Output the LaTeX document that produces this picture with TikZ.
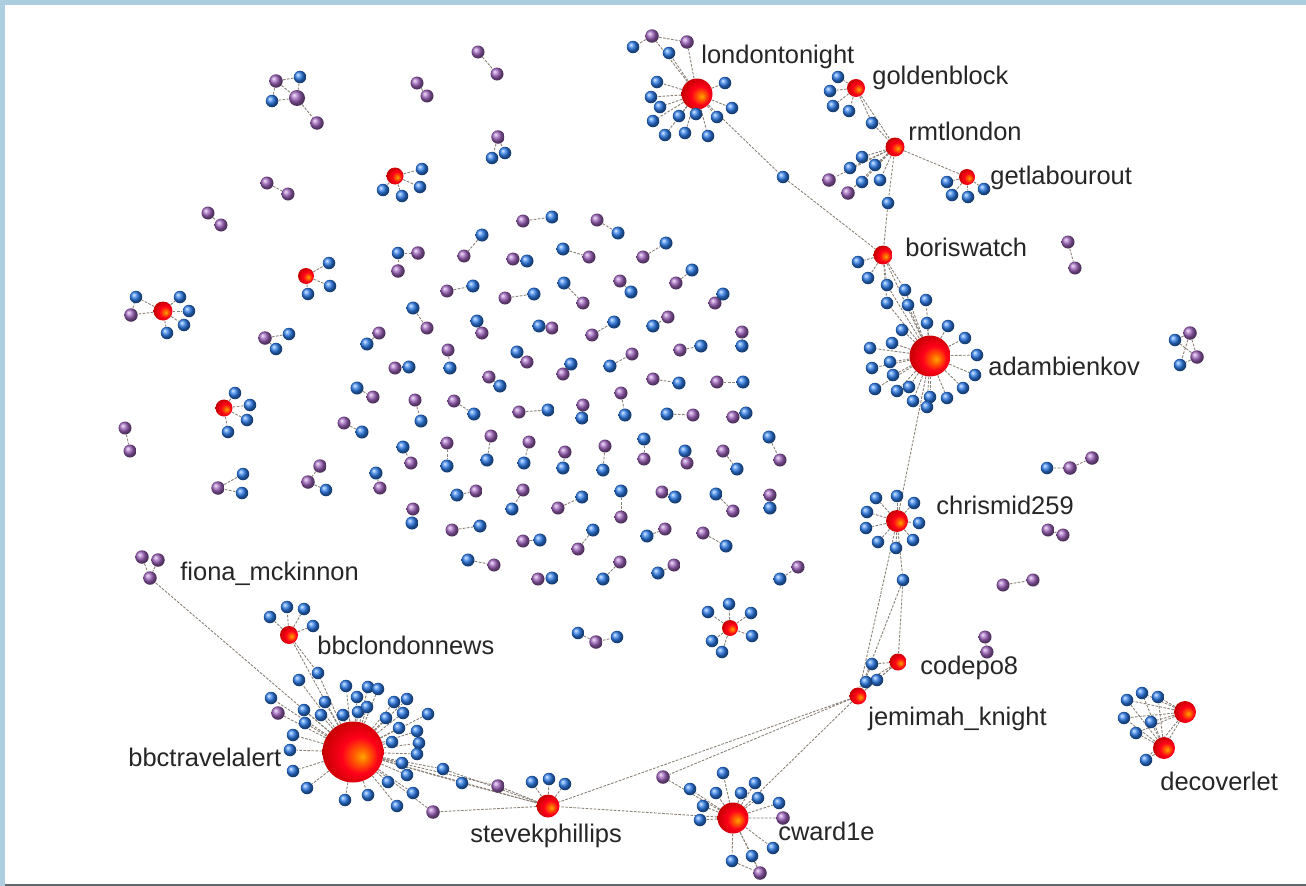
\documentclass[tikz,border=0pt]{standalone}
\usepackage{fontspec}
\setmainfont{Liberation Sans}
\pgfdeclarelayer{bg}
\pgfdeclarelayer{edges}
\pgfsetlayers{bg,edges,main}

\definecolor{framebg}{RGB}{172,206,222}
\definecolor{rulegray}{RGB}{95,105,110}
\definecolor{lb}{RGB}{45,125,235}
\definecolor{lp}{RGB}{160,100,190}
\pgfdeclareradialshading{hubball}{\pgfpoint{8bp}{-4bp}}{color(0bp)=(orange!70!yellow); color(6bp)=(orange!75!red); color(15bp)=(red!90!magenta); color(30bp)=(red!75!black); color(50bp)=(red!55!black)}

\tikzset{
  leaf/.style={circle, inner sep=0pt, minimum size=0.25cm, ball color=#1},
  bnode/.style={leaf=lb},
  pnode/.style={leaf=lp, minimum size=0.27cm},
  hub/.style={circle, inner sep=0pt, minimum size=#1, shading=hubball},
  hub/.default=0.36cm,
  link/.style={draw=gray!85!brown, line width=0.5pt, dash pattern=on 1.5pt off 0.8pt},
  lbl/.style={anchor=base west, inner sep=0pt, text=black!85, font=\fontsize{14.5}{17}\selectfont}
}

\begin{document}
\begin{tikzpicture}[x=0.02cm, y=-0.02cm]
\useasboundingbox (0,0) rectangle (1306,886);
\begin{pgfonlayer}{bg}
\fill[framebg] (0,0) rectangle (1306,886);
\fill[white] (5,5) rectangle (1306,884);
\fill[rulegray] (5,884) rectangle (1306,886);
\end{pgfonlayer}

% loose pairs in the middle
\foreach \ca/\xa/\ya/\cb/\xb/\yb [count=\i] in {
  lp/523/221/lb/552/217, lb/482/235/lp/464/256, lp/513/259/lb/527/261,
  lp/447/291/lb/473/286, lp/505/298/lb/534/294, lb/413/308/lp/427/328,
  lb/477/321/lp/482/333, lb/539/326/lp/552/328, lp/379/333/lb/367/344,
  lp/448/350/lb/450/368, lb/517/352/lp/527/362, lp/395/368/lb/409/367,
  lp/489/377/lb/500/386, lb/357/388/lp/373/397, lp/597/220/lb/618/233,
  lb/563/249/lp/589/257, lp/643/257/lb/666/243, lb/564/283/lp/583/303,
  lp/620/281/lb/631/292, lp/676/283/lb/692/270, lp/715/303/lb/723/294,
  lp/592/335/lb/614/322, lb/653/326/lp/668/317, lp/742/332/lb/742/346,
  lp/680/350/lb/701/346, lb/571/364/lp/563/374, lb/610/366/lp/632/354,
  lp/653/379/lb/679/383, lp/717/382/lb/743/382, lp/621/393/lb/625/415,
  lp/415/400/lb/421/421, lp/454/401/lb/474/414, lp/519/412/lb/548/410,
  lp/344/423/lb/362/432, lb/403/447/lp/411/463, lp/447/443/lb/447/466,
  lp/491/436/lb/487/460, lp/529/442/lb/524/463, lb/376/473/lp/380/488,
  lb/457/495/lp/476/491, lp/523/490/lb/512/509, lp/413/509/lb/412/523,
  lp/452/530/lb/480/526, lp/523/541/lb/540/540, lb/468/560/lp/494/565,
  lp/538/579/lb/552/578, lp/583/405/lb/582/418, lb/667/414/lp/693/415,
  lp/733/417/lb/746/413, lp/565/452/lb/563/468, lp/605/446/lb/603/470,
  lb/644/439/lp/644/459, lb/685/451/lp/687/463, lp/723/451/lb/737/469,
  lb/769/437/lp/780/460, lp/558/508/lb/582/497, lb/621/491/lp/621/517,
  lp/662/492/lb/675/497, lb/716/494/lp/733/511, lp/770/495/lb/770/508,
  lb/593/530/lp/578/549, lb/647/536/lp/665/529, lp/703/533/lb/726/546,
  lb/603/579/lp/620/562, lb/658/573/lp/674/565, lb/780/579/lp/798/567,
  lp/417/83/lp/427/96, lp/478/52/lp/497/74, lp/267/183/lp/288/194,
  lp/208/213/lp/221/225, lp/125/428/lp/130/451, lp/1068/242/lp/1075/268,
  lp/1048/530/lp/1063/535, lp/1003/585/lp/1033/580, lp/985/637/lp/987/652}{
  \node[leaf=\ca, minimum size=0.26cm] (pa\i) at (\xa,\ya) {};
  \node[leaf=\cb, minimum size=0.26cm] (pb\i) at (\xb,\yb) {};
  \begin{pgfonlayer}{edges}\draw[link] (pa\i) -- (pb\i);\end{pgfonlayer}
}

% small clusters
\node[bnode] (ta) at (398,253) {};
\node[pnode] (tb) at (418,253) {};
\node[pnode] (tc) at (398,271) {};
\node[pnode] (qa) at (276,81) {};
\node[bnode] (qb) at (300,77) {};
\node[bnode] (qc) at (272,101) {};
\node[pnode, minimum size=0.32cm] (qd) at (297,98) {};
\node[pnode] (qe) at (317,123) {};
\node[pnode] (ua) at (498,137) {};
\node[bnode] (ub) at (492,158) {};
\node[bnode] (uc) at (505,153) {};
\node[pnode] (va) at (265,338) {};
\node[bnode] (vb) at (289,334) {};
\node[bnode] (vc) at (276,349) {};
\node[pnode] (wa) at (218,488) {};
\node[bnode] (wb) at (243,474) {};
\node[bnode] (wc) at (242,493) {};
\node[pnode] (xa) at (320,466) {};
\node[pnode] (xb) at (308,482) {};
\node[bnode] (xc) at (326,490) {};
\node[bnode] (ya) at (578,633) {};
\node[pnode] (yb) at (596,642) {};
\node[bnode] (yc) at (617,637) {};
\node[pnode] (za) at (1190,333) {};
\node[bnode] (zb) at (1175,340) {};
\node[bnode] (zc) at (1180,365) {};
\node[pnode] (zd) at (1197,357) {};
\node[bnode] (ka) at (1047,468) {};
\node[pnode] (kb) at (1070,468) {};
\node[pnode] (kc) at (1092,458) {};
\node[pnode] (fa) at (142,557) {};
\node[pnode] (fb) at (158,560) {};
\node[pnode] (fm) at (150,578) {};
\begin{pgfonlayer}{edges}
\draw[link] (ta) -- (tb) (ta) -- (tc);
\draw[link] (qa) -- (qb) (qa) -- (qc) (qa) -- (qd) (qb) -- (qd) (qc) -- (qd) (qd) -- (qe);
\draw[link] (ua) -- (ub) (ua) -- (uc);
\draw[link] (va) -- (vb) (va) -- (vc);
\draw[link] (wa) -- (wb) (wa) -- (wc);
\draw[link] (xa) -- (xb) (xb) -- (xc);
\draw[link] (ya) -- (yb) (yb) -- (yc);
\draw[link] (za) -- (zb) (za) -- (zc) (za) -- (zd) (zd) -- (zb) (zd) -- (zc);
\draw[link] (ka) -- (kb) (kb) -- (kc);
\draw[link] (fa) -- (fm) (fb) -- (fm);
\end{pgfonlayer}

% small hubs
\node[hub=0.34cm] (ha) at (395,176) {};
\node[hub=0.32cm] (hb) at (306,276) {};
\node[hub=0.38cm] (hc) at (163,311) {};
\node[hub=0.34cm] (hd) at (224,408) {};
\node[hub=0.32cm] (he) at (730,628) {};
\foreach \h/\pts in {ha/{422/169,383/190,420/187,402/196},
    hb/{329/263,330/286,308/294},
    hc/{136/297,180/297,189/311,184/325,167/333},
    hd/{235/393,250/405,247/420,228/432},
    he/{708/612,729/604,751/613,752/636,712/641,722/652}}{
  \foreach \x/\y [count=\i] in \pts {
    \node[bnode] (\h\i) at (\x,\y) {};
    \begin{pgfonlayer}{edges}\draw[link] (\h) -- (\h\i);\end{pgfonlayer}
  }
}
\node[pnode] (hcp) at (131,315) {};
\begin{pgfonlayer}{edges}\draw[link] (hc) -- (hcp) (hcp) -- (hc1);\end{pgfonlayer}

% decoverlet
\node[hub=0.44cm] (dca) at (1185,712) {};
\node[hub=0.44cm] (dcb) at (1164,748) {};
\foreach \x/\y [count=\i] in {1127/700,1142/693,1158/697,1124/718,1136/733,1151/722,1146/760}{
  \node[bnode] (dc\i) at (\x,\y) {};
  \begin{pgfonlayer}{edges}\draw[link] (dca) -- (dc\i) (dcb) -- (dc\i);\end{pgfonlayer}
}
\begin{pgfonlayer}{edges}\draw[link] (dca) -- (dcb);\end{pgfonlayer}

% main network
\node[hub=0.62cm] (lt) at (697,94) {};
\node[hub=0.36cm] (gb) at (856,88) {};
\node[hub=0.38cm] (rm) at (895,147) {};
\node[hub=0.32cm] (gl) at (967,177) {};
\node[hub=0.38cm] (bw) at (883,255) {};
\node[hub=0.82cm] (ab) at (930,356) {};
\node[hub=0.44cm] (cm) at (897,521) {};
\node[hub=0.34cm] (cp) at (898,662) {};
\node[hub=0.34cm] (jk) at (858,696) {};
\node[hub=0.62cm] (cw) at (733,818) {};
\node[hub=0.46cm] (sk) at (548,806) {};
\node[hub=1.22cm] (bt) at (353,752) {};
\node[hub=0.36cm] (bn) at (289,635) {};

\foreach \h/\pts in {lt/{657/82,725/83,651/97,660/107,653/121,679/116,696/114,732/108,717/117,665/135,685/133,708/136,669/53},
    gb/{838/77,830/91,833/106,849/111},
    rm/{862/157,875/165,850/168,880/180,862/182},
    gl/{947/182,952/195,968/197,984/189},
    bw/{858/262,868/278,887/285,905/290},
    ab/{887/303,908/305,926/300,902/330,927/323,948/326,965/338,892/343,870/348,977/355,890/362,872/368,975/375,893/375,875/389,897/391,909/387,963/388,930/397,947/398,913/401,927/407},
    cm/{876/498,867/512,866/528,878/542,896/548,913/540,919/523,914/503,897/496},
    cp/{872/664,877/680},
    cw/{723/773,755/783,690/789,716/793,741/793,758/798,779/803,703/806,700/820,773/848,752/856,732/861},
    sk/{532/782,549/779,565/784},
    bn/{270/617,287/607,304/609,313/626},
    bt/{318/673,299/680,271/698,346/686,357/697,368/687,378/689,325/702,304/710,321/715,343/715,358/712,367/707,394/702,407/699,386/718,403/713,428/714,305/723,293/735,399/728,417/731,392/742,419/743,290/750,417/754,293/771,402/763,407/775,443/769,462/783,388/782,307/788,368/795,413/793,345/800,397/806}}{
  \foreach \x/\y [count=\i] in \pts {
    \node[bnode] (\h\i) at (\x,\y) {};
    \begin{pgfonlayer}{edges}\draw[link] (\h) -- (\h\i);\end{pgfonlayer}
  }
}

\node[pnode] (ltpa) at (652,36) {};
\node[pnode] (ltpb) at (687,42) {};
\node[bnode] (ltb) at (633,47) {};
\node[bnode] (ltx) at (783,177) {};
\node[bnode] (gbx) at (872,123) {};
\node[pnode] (rmpa) at (829,180) {};
\node[pnode] (rmpb) at (848,193) {};
\node[bnode] (rmx) at (888,203) {};
\node[bnode] (cmx) at (903,580) {};
\node[bnode] (cpx) at (866,682) {};
\node[pnode] (cwpa) at (783,818) {};
\node[pnode] (cwpb) at (760,873) {};
\node[pnode] (jkp) at (663,777) {};
\node[pnode] (skpa) at (498,786) {};
\node[pnode] (skpb) at (433,812) {};
\node[pnode] (btp) at (278,713) {};

\begin{pgfonlayer}{edges}
\draw[link] (lt) -- (ltpa) (lt) -- (ltpb) (ltpa) -- (ltpb) (ltpa) -- (ltb);
\draw[link] (lt) -- (ltx) -- (bw);
\draw[link] (gb) -- (gbx) -- (rm) (gb) -- (rm);
\draw[link] (rm) -- (rmpa) (rm) -- (rmpb) (rm) -- (gl);
\draw[link] (rm) -- (rmx) -- (bw);
\draw[link] (bw) -- (ab) (bw3) -- (ab) (bw4) -- (ab) (bw) -- (ab1);
\draw[link] (ab) -- (cm);
\draw[link] (cm) -- (cmx) (cmx) -- (cp) (cmx) -- (jk) (cm) -- (jk);
\draw[link] (cp) -- (jk) (cpx) -- (cp) (cpx) -- (jk) (cp1) -- (jk) (cp2) -- (jk);
\draw[link] (jk) -- (sk) (jk) -- (jkp) (jk) -- (cw);
\draw[link] (cw) -- (jkp) (cw) -- (sk) (cw) -- (cwpa) (cw) -- (cwpb);
\draw[link] (cw11) -- (cwpb) (cw12) -- (cwpb);
\draw[link] (sk) -- (skpa) (skpa) -- (bt) (sk) -- (skpb) (skpb) -- (bt) (sk) -- (bt);
\draw[link] (bt30) -- (sk) (bt31) -- (sk);
\draw[link] (bt) -- (btp) (bt) -- (bn) (bn) -- (bt1) (bt) -- (fm);
\end{pgfonlayer}

% labels
\node[lbl] (l-lt) at (701,63) {londontonight};
\node[lbl] (l-gb) at (872,84) {goldenblock};
\node[lbl] (l-rm) at (908,140) {rmtlondon};
\node[lbl] (l-gl) at (990,184) {getlabourout};
\node[lbl] (l-bw) at (905,256) {boriswatch};
\node[lbl] (l-ab) at (988,375) {adambienkov};
\node[lbl] (l-cm) at (936,514) {chrismid259};
\node[lbl] (l-cp) at (920,674) {codepo8};
\node[lbl] (l-jk) at (868,725) {jemimah\_knight};
\node[lbl] (l-dc) at (1160,790) {decoverlet};
\node[lbl] (l-cw) at (778,840) {cward1e};
\node[lbl] (l-sk) at (470,842) {stevekphillips};
\node[lbl] (l-bt) at (128,766) {bbctravelalert};
\node[lbl] (l-bn) at (317,654) {bbclondonnews};
\node[lbl] (l-fm) at (180,580) {fiona\_mckinnon};
\end{tikzpicture}
\end{document}
